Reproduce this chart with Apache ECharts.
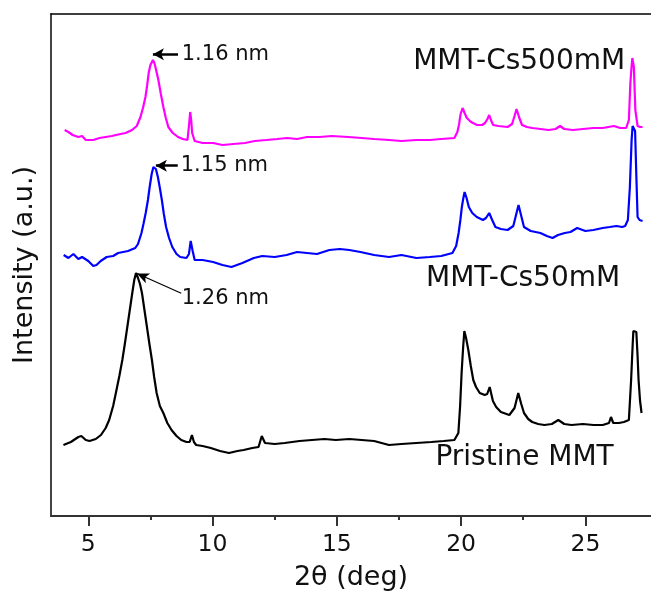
<!DOCTYPE html>
<html>
<head>
<meta charset="utf-8">
<script src="https://cdn.jsdelivr.net/npm/echarts@6/dist/echarts.min.js"></script>
<style>
html,body{margin:0;padding:0;background:#fff;overflow:hidden;}
#chart{width:651px;height:598px;}
</style>
</head>
<body>
<div id="chart"></div>
<script>
// ---- data (2θ in deg, intensity in arbitrary units, curves offset) ----
const xMin = 3.5, xMax = 27.64;
const majorTicks = [5, 10, 15, 20, 25];
const minorTicks = [7.5, 12.5, 17.5, 22.5];
const seriesNames = ['MMT-Cs500mM', 'MMT-Cs50mM', 'Pristine MMT'];
const seriesColors = ['#ff00ff', '#0000ff', '#000000'];

const cs500Data = [[4.05,386],[4.2,384],[4.37,381],[4.6,379],[4.75,380],[4.9,376],[5.2,376],[5.45,378],[5.7,379],[5.95,380],[6.11,381],[6.3,382],[6.5,383],[6.76,386],[6.95,390],[7.1,399],[7.2,408],[7.3,419],[7.37,431],[7.43,443],[7.5,451],[7.6,456],[7.66,453],[7.72,447],[7.82,436],[7.92,422],[8.02,409],[8.12,398],[8.22,389],[8.4,383],[8.61,379],[8.8,377],[8.99,376],[9.05,390],[9.1,404],[9.14,396],[9.18,383],[9.28,375],[9.6,373],[10.02,373],[10.4,371],[10.84,372],[11.3,373],[11.7,375],[12.16,376],[12.6,377],[13.0,378],[13.4,377],[13.8,379],[14.3,379],[14.8,380],[15.45,379],[16.0,378],[16.5,377],[17.1,376],[17.6,375],[18.2,376],[18.74,376],[19.2,377],[19.73,378],[19.85,384],[19.92,392],[19.98,402],[20.06,408],[20.14,403],[20.23,398],[20.4,394],[20.64,391],[20.85,391],[20.96,393],[21.06,397],[21.13,401],[21.2,396],[21.29,391],[21.5,390],[21.87,389],[22.05,392],[22.15,400],[22.23,407],[22.33,399],[22.45,391],[22.65,389],[22.86,388],[23.2,387],[23.52,386],[23.8,387],[23.98,390],[24.15,387],[24.5,386],[24.9,387],[25.32,388],[25.7,388],[26.15,390],[26.4,388],[26.64,388],[26.75,396],[26.81,433],[26.86,450],[26.89,458],[26.95,449],[27.01,406],[27.1,390],[27.2,389],[27.3,389]];

const cs50Data = [[4.01,261],[4.2,258],[4.4,262],[4.6,257],[4.75,259],[5.0,255],[5.2,250],[5.33,251],[5.5,255],[5.74,259],[6.0,260],[6.2,263],[6.4,264],[6.6,265],[6.89,268],[7.0,272],[7.14,283],[7.22,292],[7.31,303],[7.4,316],[7.47,329],[7.55,342],[7.62,349],[7.67,349],[7.72,347],[7.8,339],[7.88,328],[7.96,316],[8.04,302],[8.13,289],[8.25,278],[8.38,269],[8.55,262],[8.7,259],[8.95,258],[9.05,262],[9.12,275],[9.2,265],[9.28,256],[9.6,256],[10.02,254],[10.4,251],[10.76,249],[11.2,253],[11.66,258],[12.0,260],[12.5,259],[12.98,261],[13.4,264],[13.8,263],[14.2,262],[14.7,266],[15.12,267],[15.5,266],[15.95,264],[16.5,261],[17.1,259],[17.6,261],[18.2,258],[18.74,259],[19.2,260],[19.65,263],[19.8,270],[19.9,283],[19.97,296],[20.03,309],[20.09,318],[20.14,324],[20.22,318],[20.31,309],[20.45,303],[20.63,299],[20.88,296],[21.0,298],[21.13,303],[21.25,296],[21.38,289],[21.6,287],[21.87,286],[22.1,290],[22.2,300],[22.31,311],[22.42,300],[22.53,289],[22.8,285],[23.19,283],[23.45,280],[23.68,278],[23.9,281],[24.17,283],[24.4,284],[24.67,288],[25.0,285],[25.32,286],[25.7,288],[25.98,289],[26.25,290],[26.48,289],[26.6,290],[26.71,296],[26.79,329],[26.86,376],[26.9,390],[26.95,390],[27.0,385],[27.05,340],[27.1,299],[27.18,296],[27.3,295]];

const pristineData = [[4.0,71],[4.3,74],[4.6,79],[4.72,80],[4.9,76],[5.05,75],[5.3,77],[5.51,81],[5.7,88],[5.84,96],[6.0,110],[6.11,123],[6.25,140],[6.37,156],[6.47,172],[6.57,189],[6.67,206],[6.77,223],[6.85,236],[6.92,243],[7.0,238],[7.08,232],[7.16,223],[7.26,206],[7.36,189],[7.46,172],[7.56,156],[7.65,139],[7.75,123],[7.88,110],[8.02,103],[8.18,93],[8.35,86],[8.55,80],[8.74,76],[8.95,74],[9.08,74],[9.17,81],[9.25,74],[9.34,71],[9.6,70],[9.93,68],[10.3,65],[10.66,63],[11.0,65],[11.25,66],[11.6,68],[11.85,69],[11.98,80],[12.11,73],[12.5,72],[12.9,73],[13.5,75],[14.0,76],[14.5,77],[14.96,76],[15.5,77],[16.0,76],[16.5,75],[17.1,71],[17.6,72],[18.2,73],[18.8,74],[19.3,75],[19.73,76],[19.89,83],[19.96,110],[20.02,143],[20.08,168],[20.13,185],[20.2,178],[20.29,166],[20.39,150],[20.49,136],[20.6,129],[20.75,123],[20.95,121],[21.05,122],[21.15,129],[21.28,115],[21.41,109],[21.6,104],[21.94,101],[22.15,108],[22.3,123],[22.42,112],[22.53,103],[22.7,97],[22.86,94],[23.1,92],[23.35,91],[23.65,92],[23.91,96],[24.15,92],[24.44,91],[24.9,92],[25.33,91],[25.7,91],[25.95,93],[26.03,99],[26.12,93],[26.35,93],[26.55,94],[26.75,96],[26.84,136],[26.9,170],[26.93,185],[27.0,183],[27.05,184],[27.1,160],[27.14,136],[27.2,115],[27.26,103]];

const peakLabels = ['1.16 nm', '1.15 nm', '1.26 nm'];
const peakLabelAt = [[8.74,461.7],[8.7,350.3],[8.74,217.7]];
const arrowFrom = [[8.61,461.7],[8.6,350.3],[8.74,222.7]];
const arrowTo = [[7.6,461.7],[7.72,350.3],[6.96,242.5]];
const nameLabelAt = [[26.62,454.3],[26.42,237.7],[26.16,58.5]];

// ---- chart ----
const FONT = 'DejaVu Sans';
const AX = '#333';

const lineSeries = [cs500Data, cs50Data, pristineData].map((d, i) => ({
  name: seriesNames[i],
  type: 'line',
  data: d,
  showSymbol: false,
  symbol: 'none',
  lineStyle: { color: seriesColors[i], width: 2.2 },
  itemStyle: { color: seriesColors[i] },
  z: 3 + i
}));

// annotation arrows drawn as a separate line series that only carries markLines
const arrowSeries = {
  type: 'line',
  data: [],
  silent: true,
  markLine: {
    silent: true,
    animation: false,
    label: { show: false },
    emphasis: { disabled: true },
    data: arrowFrom.map((f, i) => [
      { coord: f, symbol: 'none', symbolSize: 0,
        lineStyle: { width: i === 2 ? 1.2 : 2.5, color: '#000', type: 'solid' } },
      { coord: arrowTo[i], symbol: 'arrow', symbolSize: i === 2 ? [8, 12] : [9, 11],
        itemStyle: { color: '#000' } }
    ])
  },
  z: 9
};

function textSeries(texts, at, pos, size) {
  return {
    type: 'scatter',
    symbol: 'circle',
    symbolSize: 1,
    itemStyle: { color: 'rgba(255,255,255,0)', opacity: 1 },
    silent: true,
    data: texts.map((t, i) => ({ value: at[i], name: t })),
    label: {
      show: true, position: pos, distance: 0, opacity: 1,
      formatter: p => p.name,
      fontFamily: FONT, fontSize: size, color: '#111'
    },
    z: 10
  };
}

const chart = echarts.init(document.getElementById('chart'), null, { renderer: 'canvas' });
chart.setOption({
  animation: false,
  backgroundColor: '#fff',
  grid: { left: 51, right: -10, top: 14, bottom: 82, containLabel: false },
  xAxis: [
    {
      type: 'value', min: xMin, max: xMax, position: 'bottom',
      axisLine: { show: true, onZero: false, lineStyle: { color: AX, width: 2 } },
      axisTick: { show: true, length: 10, customValues: majorTicks, lineStyle: { color: AX, width: 2 } },
      axisLabel: { show: true, customValues: majorTicks, margin: 17, fontFamily: FONT, fontSize: 23.5, color: '#111' },
      splitLine: { show: false },
      name: '2θ (deg)', nameLocation: 'middle', nameGap: 48,
      nameTextStyle: { fontFamily: FONT, fontSize: 27, color: '#111' }
    },
    {
      type: 'value', min: xMin, max: xMax, position: 'bottom',
      axisLine: { show: false, onZero: false },
      axisTick: { show: true, length: 4, customValues: minorTicks, lineStyle: { color: AX, width: 2 } },
      axisLabel: { show: false },
      splitLine: { show: false }
    },
    {
      type: 'value', min: xMin, max: xMax, position: 'top',
      axisLine: { show: true, onZero: false, lineStyle: { color: '#000', width: 1.5 } },
      axisTick: { show: false }, axisLabel: { show: false }, splitLine: { show: false }
    }
  ],
  yAxis: {
    type: 'value', min: 0, max: 502,
    axisLine: { show: true, onZero: false, lineStyle: { color: '#444', width: 2 } },
    axisTick: { show: false }, axisLabel: { show: false }, splitLine: { show: false },
    name: 'Intensity (a.u.)', nameLocation: 'middle', nameGap: 13, nameRotate: 90,
    nameTextStyle: { fontFamily: FONT, fontSize: 27, color: '#111' }
  },
  series: lineSeries.concat([arrowSeries,
    textSeries(peakLabels, peakLabelAt, 'right', 21),
    textSeries(seriesNames, nameLabelAt, 'left', 28)])
});
</script>
</body>
</html>
